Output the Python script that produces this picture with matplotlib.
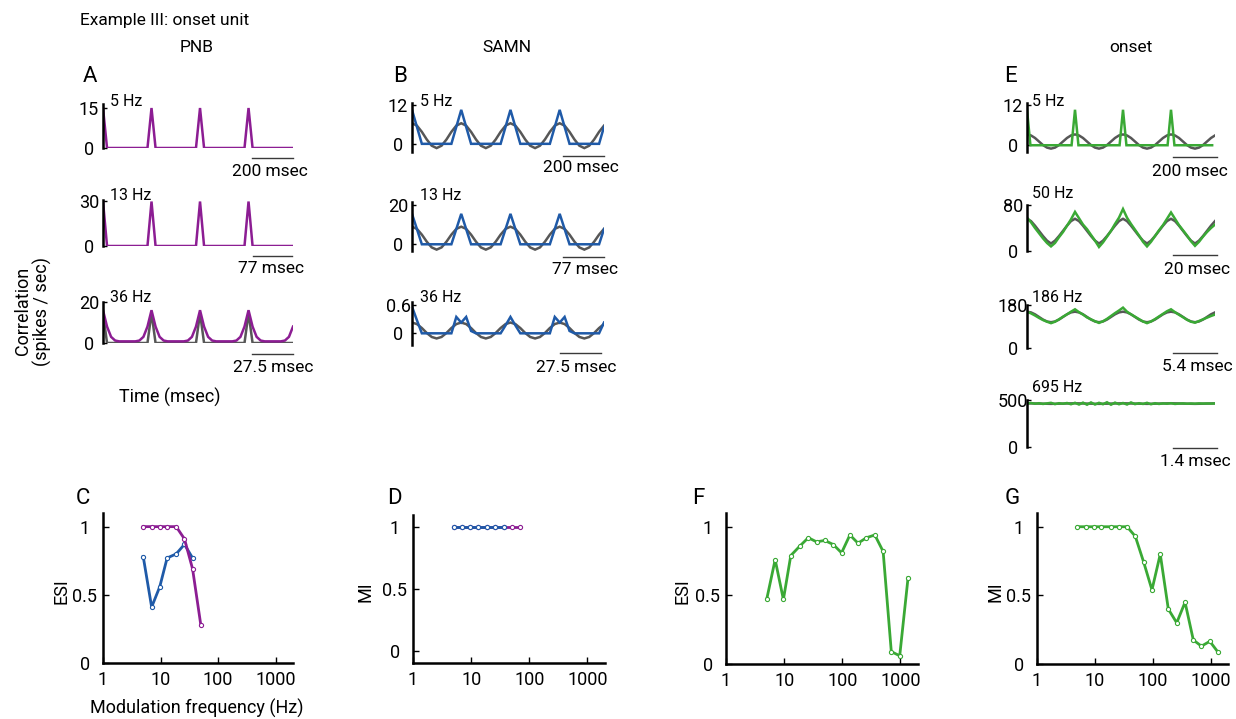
import numpy as np
import matplotlib
matplotlib.use('Agg')
import matplotlib.pyplot as plt
from matplotlib.lines import Line2D
from matplotlib.ticker import LogLocator, NullFormatter

W, H = 1236, 719
plt.rcParams['font.family'] = ['Roboto', 'DejaVu Sans']
plt.rcParams['font.size'] = 12.5

PURPLE = '#8c1d93'
BLUE = '#1f5aa8'
GREEN = '#3aa935'
GRAY = '#575757'

# ---------------- data ----------------
# modulation frequencies (Hz)
mod_freq = [5, 7, 9.7, 13, 18.7, 26, 36, 50, 70, 97, 135, 186, 260, 362, 503, 695, 970, 1350]

# C: ESI, PNB (purple) / SAMN (blue)
esi_pnb = [1, 1, 1, 1, 1, 0.91, 0.69, 0.28]
esi_samn = [0.78, 0.41, 0.56, 0.77, 0.80, 0.87, 0.77]
# D: MI
mi_pnb = [1, 1, 1, 1, 1, 1, 1, 1, 1]
mi_samn = [1, 1, 1, 1, 1, 1, 1]
# F, G: onset unit
esi_onset = [0.47, 0.76, 0.47, 0.79, 0.86, 0.92, 0.89, 0.90, 0.87,
             0.81, 0.94, 0.88, 0.92, 0.94, 0.82, 0.09, 0.06, 0.63]
mi_onset = [1, 1, 1, 1, 1, 1, 1, 0.93, 0.74, 0.54, 0.80, 0.40,
            0.30, 0.45, 0.175, 0.13, 0.165, 0.085]

# period histograms (one period, bins per period = len), spikes/sec
pnb_5hz = [15, 0, 0, 0, 0, 0, 0, 0, 0, 0, 0, 0]
pnb_13hz = [29.5, 0, 0, 0, 0, 0, 0, 0, 0, 0, 0, 0]
pnb_36hz = [16, 8, 3, 1.2, 0.8, 0.8, 0.8, 0.8, 0.8, 1.2, 3, 8]
pnb_36hz_fit = [14.6, 0, 0, 0, 0, 0, 0, 0, 0, 0, 0, 0]

samn_5hz = [10.4, 5.2, 0, 0, 0, 0, 0, 0, 0, 5.2]
samn_5hz_fit = [6.3, 5.57, 3.67, 1.33, -0.57, -1.3, -0.57, 1.33, 3.67, 5.57]
samn_13hz = [15.4, 7.7, 0, 0, 0, 0, 0, 0, 0, 7.7]
samn_13hz_fit = [8.9, 7.79, 4.89, 1.31, -1.59, -2.7, -1.59, 1.31, 4.89, 7.79]
samn_36hz = [0.57, 0.28, 0, 0, 0, 0, 0, 0, 0, 0.35,
             0.23, 0.35, 0.05, 0, 0, 0, 0, 0, 0, 0.17,
             0.35, 0.17, 0, 0, 0, 0, 0, 0, 0, 0.35,
             0.23, 0.35, 0.05, 0, 0, 0, 0, 0, 0, 0.23]
samn_36hz_fit = [0.23, 0.198, 0.113, 0.007, -0.078, -0.11, -0.078, 0.007, 0.113, 0.198]

onset_5hz = [10.5, 0, 0, 0, 0, 0, 0, 0, 0, 0, 0, 0, 0, 0]
onset_5hz_fit = [3.2, 2.9, 2.15, 1.1, 0.05, -0.7, -1.0, -0.7, 0.05, 1.1, 2.15, 2.9]
onset_50hz = [58, 50, 40, 31, 22, 14, 8, 14, 24, 33, 44, 55,
              68, 57, 46, 38, 28, 18, 7, 15, 25, 35, 47, 58,
              73, 58, 47, 37, 27, 16, 8, 16, 26, 36, 45, 56,
              67, 56, 45, 36, 27, 17, 9, 16, 25, 33, 40, 46]
onset_50hz_fit = [56, 52, 44, 35, 26, 18, 13, 18, 26, 35, 44, 52]
onset_186hz = [152, 145, 136, 126, 117, 110, 104, 110, 120, 131, 141, 152,
               162, 150, 140, 128, 120, 112, 105, 112, 122, 134, 146, 157,
               169, 152, 141, 131, 121, 111, 104, 111, 121, 132, 143, 154,
               162, 150, 139, 129, 118, 110, 106, 113, 120, 127, 134, 140]
onset_186hz_fit = [152, 149, 141, 130, 119, 111, 108, 111, 119, 130, 141, 149]
onset_695hz = [462, 468, 460, 466, 458, 464, 470, 456, 466, 460, 468, 455,
               470, 452, 472, 450, 474, 452, 470, 455, 476, 450, 472, 455,
               468, 452, 474, 456, 466, 458, 470, 455, 466, 458, 464, 460,
               466, 458, 462, 464, 460, 463, 461, 464, 462, 463, 462, 463]
onset_695hz_fit = [465, 464, 463, 462, 461, 460, 459, 460, 461, 462, 463, 464]

fig = plt.figure(figsize=(W / 100, H / 100), dpi=100)


def px_axes(left, top, right, bottom):
    return fig.add_axes([left / W, 1 - bottom / H, (right - left) / W, (bottom - top) / H])


def ftext(x, y, s, **kw):
    kw.setdefault('ha', 'center')
    kw.setdefault('va', 'center')
    fig.text(x / W, 1 - y / H, s, **kw)


def hbar(x0, x1, y):
    fig.add_artist(Line2D([x0 / W, x1 / W], [1 - y / H] * 2, color='#3a3a3a', lw=1.0))


def draw_cycle(ax, vals, per_period, n, color, lw=1.8):
    y = np.resize(np.array(vals, float), n)
    x = np.arange(n) / per_period
    ax.plot(x, y, color=color, lw=lw, solid_joinstyle='miter')


def trace_axes(rect, ylim, ticks, labels, xmax):
    ax = px_axes(*rect)
    ax.set_xlim(0, xmax)
    ax.set_ylim(*ylim)
    for s in ['top', 'right', 'bottom']:
        ax.spines[s].set_visible(False)
    ax.spines['left'].set_linewidth(1.8)
    ax.set_xticks([])
    ax.set_yticks(ticks)
    ax.set_yticklabels(labels, ha='center', fontsize=13)
    ax.tick_params(axis='y', direction='in', length=3, width=1, pad=10)
    ax.patch.set_visible(False)
    return ax


# ---------------- A: PNB ----------------
ax = trace_axes((103, 104, 293, 148), (0, 16.5), [0, 15], ['0', '15'], 47 / 12)
draw_cycle(ax, pnb_5hz, 12, 48, PURPLE)
ax = trace_axes((103, 200, 293, 246), (0, 30.5), [0, 30], ['0', '30'], 47 / 12)
draw_cycle(ax, pnb_13hz, 12, 48, PURPLE)
ax = trace_axes((103, 302, 293, 343), (0, 20), [0, 20], ['0', '20'], 47 / 12)
draw_cycle(ax, pnb_36hz_fit, 12, 48, GRAY)
draw_cycle(ax, pnb_36hz, 12, 48, PURPLE)

# ---------------- B: SAMN ----------------
ax = trace_axes((412, 103, 604, 152), (-2.5, 12.5), [0, 12], ['0', '12'], 3.9)
draw_cycle(ax, samn_5hz_fit, 10, 40, GRAY)
draw_cycle(ax, samn_5hz, 10, 40, BLUE)
ax = trace_axes((412, 202, 604, 251), (-3.4, 21.4), [0, 20], ['0', '20'], 3.9)
draw_cycle(ax, samn_13hz_fit, 10, 40, GRAY)
draw_cycle(ax, samn_13hz, 10, 40, BLUE)
ax = trace_axes((412, 302, 604, 345), (-0.25, 0.67), [0, 0.6], ['0', '0.6'], 3.9)
draw_cycle(ax, samn_36hz_fit, 10, 40, GRAY)
draw_cycle(ax, samn_36hz, 10, 40, BLUE)

# ---------------- E: onset ----------------
ax = trace_axes((1027, 103, 1215, 152), (-2, 12.5), [0, 12], ['0', '12'], 47 / 12)
draw_cycle(ax, onset_5hz_fit, 12, 48, GRAY)
draw_cycle(ax, onset_5hz, 14, 55, GREEN)
ax = trace_axes((1027, 205, 1215, 251), (0, 80), [0, 80], ['0', '80'], 47 / 12)
draw_cycle(ax, onset_50hz_fit, 12, 48, GRAY)
draw_cycle(ax, onset_50hz, 12, 48, GREEN)
ax = trace_axes((1027, 305, 1215, 348), (0, 180), [0, 180], ['0', '180'], 47 / 12)
draw_cycle(ax, onset_186hz_fit, 12, 48, GRAY)
draw_cycle(ax, onset_186hz, 12, 48, GREEN)
ax = trace_axes((1027, 400, 1215, 447), (0, 500), [0, 500], ['0', '500'], 47 / 12)
draw_cycle(ax, onset_695hz_fit, 12, 48, GRAY)
draw_cycle(ax, onset_695hz, 12, 48, GREEN)

# frequency labels
for x0, ys, labs in [(110, [101, 196, 298], ['5 Hz', '13 Hz', '36 Hz']),
                     (420, [102, 196, 298], ['5 Hz', '13 Hz', '36 Hz']),
                     (1032, [102, 194, 297, 388], ['5 Hz', '50 Hz', '186 Hz', '695 Hz'])]:
    for yy, lab in zip(ys, labs):
        ftext(x0, yy, lab, ha='left', fontsize=11.5)

# scale bars
bars = [(252, 293, 158, 270, 172, '200 msec'),
        (253, 292, 256, 271, 268, '77 msec'),
        (252, 293, 354, 273, 368, '27.5 msec'),
        (563, 604, 156, 581, 168, '200 msec'),
        (563, 604, 257, 585, 270, '77 msec'),
        (560, 601, 353, 576, 367, '27.5 msec'),
        (1173, 1217, 157, 1190, 172, '200 msec'),
        (1173, 1217, 255, 1197, 269, '20 msec'),
        (1173, 1217, 353, 1197, 366, '5.4 msec'),
        (1173, 1217, 448, 1195, 462, '1.4 msec')]
for x0, x1, yb, xt, yt, lab in bars:
    hbar(x0, x1, yb)
    ftext(xt, yt, lab)

# headings
ftext(80, 20, 'Example III: onset unit', ha='left')
ftext(197, 48, 'PNB')
ftext(507, 48, 'SAMN')
ftext(1131, 48, 'onset')
for x0, y0, lab in [(90, 76, 'A'), (400, 76, 'B'), (1011, 76, 'E'),
                    (83, 498, 'C'), (394, 498, 'D'), (698, 498, 'F'), (1012, 498, 'G')]:
    ftext(x0, y0, lab, fontsize=16)
ftext(33, 311, 'Correlation\n(spikes / sec)', rotation=90, linespacing=1.1, fontsize=13)
ftext(170, 397, 'Time (msec)', fontsize=13)


# ---------------- bottom tuning curves ----------------
def tuning_axes(rect, ylim, ylabel, ylab_x):
    ax = px_axes(*rect)
    ax.set_xscale('log')
    ax.set_xlim(1, 2000)
    ax.set_ylim(*ylim)
    for s in ['top', 'right']:
        ax.spines[s].set_visible(False)
    for s in ['left', 'bottom']:
        ax.spines[s].set_linewidth(1.8)
    ax.set_xticks([1, 10, 100, 1000])
    ax.set_xticklabels(['1', '10', '100', '1000'], fontsize=13)
    ax.xaxis.set_minor_locator(LogLocator(base=10, subs=np.arange(2, 10)))
    ax.xaxis.set_minor_formatter(NullFormatter())
    ax.set_yticks([0, 0.5, 1])
    ax.set_yticklabels(['0', '0.5', '1'], ha='center', fontsize=13)
    ax.tick_params(axis='both', which='major', direction='in', length=4, width=1)
    ax.tick_params(axis='both', which='minor', direction='in', length=2, width=0.8)
    ax.tick_params(axis='y', pad=13)
    ax.tick_params(axis='x', pad=6)
    ax.patch.set_visible(False)
    l, b, w, h = ax.get_position().bounds
    fig.text(ylab_x / W, b + h * 0.5 - 0.004, ylabel, rotation=90, ha='center', va='center',
             fontsize=13)
    return ax


mk = dict(marker='o', ms=3, mfc='white', mew=0.8, lw=2.0)

ax = tuning_axes((103, 513, 293, 663), (0, 1.1), 'ESI', 61)
ax.plot(mod_freq[:len(esi_samn)], esi_samn, color=BLUE, mec=BLUE, **mk)
ax.plot(mod_freq[:len(esi_pnb)], esi_pnb, color=PURPLE, mec=PURPLE, **mk)

ax = tuning_axes((413, 515, 605, 663), (-0.1, 1.1), 'MI', 365)
ax.plot(mod_freq[:len(mi_pnb)], mi_pnb, color=PURPLE, mec=PURPLE, **mk)
ax.plot(mod_freq[:len(mi_samn)], mi_samn, color=BLUE, mec=BLUE, **mk)

ax = tuning_axes((726, 513, 918, 664), (0, 1.1), 'ESI', 682)
ax.plot(mod_freq, esi_onset, color=GREEN, mec=GREEN, **mk)

ax = tuning_axes((1037, 513, 1228, 664), (0, 1.1), 'MI', 995)
ax.plot(mod_freq, mi_onset, color=GREEN, mec=GREEN, **mk)

ftext(197, 708, 'Modulation frequency (Hz)', fontsize=13)

fig.savefig('out.png', dpi=100)
